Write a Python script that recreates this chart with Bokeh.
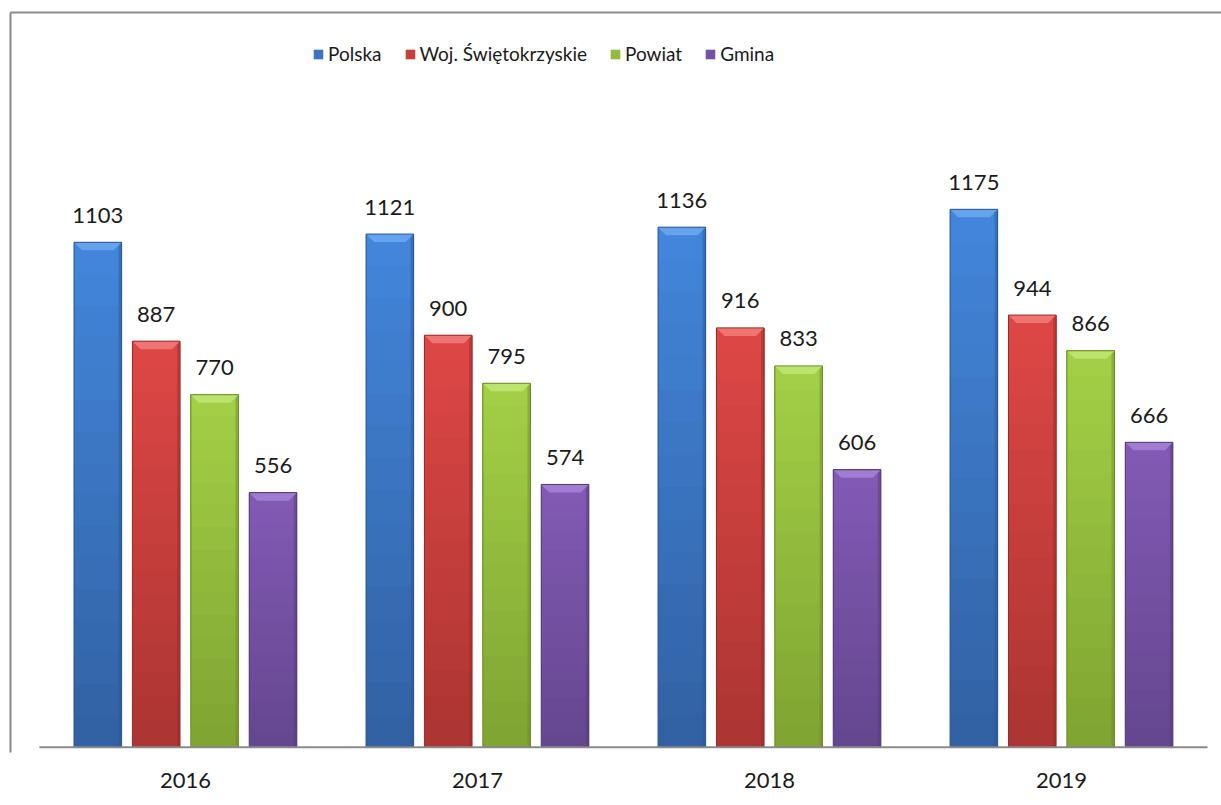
from bokeh.plotting import figure
from bokeh.models import ColumnDataSource, Legend, LegendItem, LinearAxis, FixedTicker, Range1d
from bokeh.core.properties import value
from bokeh.embed import file_html
from bokeh.resources import INLINE

years = ["2016", "2017", "2018", "2019"]
series = ["Polska", "Woj. Świętokrzyskie", "Powiat", "Gmina"]
polska = [1103, 1121, 1136, 1175]
wojewodztwo = [887, 900, 916, 944]
powiat = [770, 795, 833, 866]
gmina = [556, 574, 606, 666]

values = [polska, wojewodztwo, powiat, gmina]
top_cols = ["#4285da", "#dc4745", "#a2cf46", "#8259b3"]
bot_cols = ["#3262a4", "#ad3533", "#80a532", "#654790"]
caps = ["#66a3ee", "#ee7572", "#bbe46e", "#a07dd0"]
edges = ["#2a5590", "#962b29", "#6b8c28", "#523a78"]
offsets = [-0.3, -0.1, 0.1, 0.3]
FONT = "Lato"
GRAY = "#8a8a8a"

W, H = 1221, 800
MB = 48
x_start, x_end = -0.099, 4.048
y_start, y_end = -11.6, 1605.0
bar_w = 0.163

p = figure(x_range=Range1d(x_start, x_end), y_range=Range1d(y_start, y_end),
           width=W, height=H, output_backend="svg", toolbar_location=None,
           min_border_left=10, min_border_right=0, min_border_top=12, min_border_bottom=MB)
p.outline_line_color = None
p.xgrid.visible = False
p.ygrid.visible = False

frame_w = W - 10
frame_h = H - MB - 12
px_x = (x_end - x_start) / frame_w      # data units per pixel (x)
px_y = (y_end - y_start) / frame_h      # data units per pixel (y)
bevel_y = 8 * px_y
bevel_x = 8 * px_x
strip_w = 3 * px_x
NB = 16  # gradient steps per bar

items = []
for s, (name, vals) in enumerate(zip(series, values)):
    xc = [i + 0.5 + offsets[s] for i in range(len(years))]
    # vertical gradient: overlapping bands, each from its start up to the bar top
    bx, bb, bt, bc = [], [], [], []
    c0 = tuple(int(top_cols[s][k:k + 2], 16) for k in (1, 3, 5))
    c1 = tuple(int(bot_cols[s][k:k + 2], 16) for k in (1, 3, 5))
    for b in range(NB):
        f = b / (NB - 1)
        col = "#%02x%02x%02x" % tuple(int(round(c1[k] + (c0[k] - c1[k]) * f)) for k in range(3))
        for x, v in zip(xc, vals):
            bx.append(x)
            bb.append(v * b / NB)
            bt.append(v)
            bc.append(col)
    bands = ColumnDataSource(dict(x=bx, bottom=bb, top=bt, color=bc))
    r = p.vbar(x="x", bottom="bottom", top="top", width=bar_w, source=bands,
               fill_color="color", line_color=None)
    # right-side darker strip
    src = ColumnDataSource(dict(x=xc, val=vals, xs=[x + bar_w / 2 - strip_w / 2 for x in xc],
                                lab=[str(v) for v in vals]))
    p.vbar(x="xs", bottom=0, top="val", width=strip_w, source=src,
           fill_color=edges[s], fill_alpha=0.45, line_color=None)
    # top bevel (trapezoid)
    xs_cap = [[x - bar_w / 2, x + bar_w / 2, x + bar_w / 2 - bevel_x, x - bar_w / 2 + bevel_x] for x in xc]
    ys_cap = [[v, v, v - bevel_y, v - bevel_y] for v in vals]
    p.patches(xs=xs_cap, ys=ys_cap, fill_color=caps[s], line_color=None)
    # outline
    p.vbar(x="x", bottom=0, top="val", width=bar_w, source=src,
           fill_color=None, line_color=edges[s], line_width=1)
    p.text(x="x", y="val", text="lab", source=src,
           text_align="center", text_baseline="middle", y_offset=-27,
           text_font=value(FONT), text_font_size="22px", text_color="#1a1a1a")
    items.append(LegendItem(label=name, renderers=[r], index=(NB // 2) * len(years)))

# baseline (category axis line)
p.segment(x0=[0], x1=[len(years)], y0=[0], y1=[0], line_color=GRAY, line_width=2)

legend = Legend(items=items, orientation="horizontal", location=(302, 687))
legend.glyph_width = 12
legend.glyph_height = 12
legend.label_standoff = 4
legend.spacing = 22
legend.padding = 0
legend.margin = 0
legend.border_line_color = None
legend.background_fill_alpha = 0
legend.label_text_font = FONT
legend.label_text_font_size = "19px"
legend.label_text_color = "#1a1a1a"
p.add_layout(legend, "center")

# x axis: year labels only
p.xaxis.ticker = FixedTicker(ticks=[i + 0.5 for i in range(len(years))])
p.xaxis.major_label_overrides = {i + 0.5: y for i, y in enumerate(years)}
p.xaxis.axis_line_color = None
p.xaxis.major_tick_line_color = None
p.xaxis.minor_tick_line_color = None
p.xaxis.major_label_standoff = 14
p.xaxis.major_label_text_font = FONT
p.xaxis.major_label_text_font_size = "22px"
p.xaxis.major_label_text_color = "#1a1a1a"

# chart-area border: left and top edges
p.yaxis.ticker = []
p.yaxis.axis_line_color = GRAY
p.yaxis.axis_line_width = 2
p.yaxis.major_tick_line_color = None
p.yaxis.minor_tick_line_color = None
top_axis = LinearAxis(ticker=[], axis_line_color=GRAY, axis_line_width=2,
                      major_tick_line_color=None, minor_tick_line_color=None)
p.add_layout(top_axis, "above")

open("out.html", "w").write(file_html(p, INLINE))
